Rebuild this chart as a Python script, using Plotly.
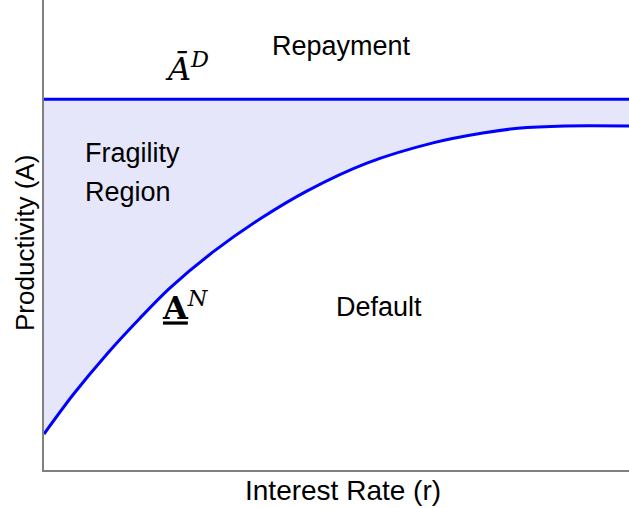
"""Fragility region chart: productivity thresholds against interest rate."""
import plotly.graph_objects as go

# interest rate (normalised 0..1 across the axis)
rate = [0.0, 0.0496, 0.1077, 0.164, 0.215, 0.289, 0.369, 0.450, 0.552, 0.665, 0.750, 0.810, 0.891, 1.0]
# lower threshold A^N
a_lower = [0.0766, 0.160, 0.247, 0.323, 0.387, 0.464, 0.534, 0.594, 0.653, 0.696, 0.717, 0.727, 0.732, 0.732]
# upper threshold A-bar^D (flat)
rate_upper = [0.0, 1.0]
a_upper = [0.789, 0.789]

line_blue = "#0000ff"
fill_col = "#e6e6fa"
sans = "Liberation Sans, Arial, sans-serif"
serif = "DejaVu Serif, serif"

fig = go.Figure()
fig.add_trace(go.Scatter(x=rate_upper, y=a_upper, mode="lines",
                         line=dict(color=line_blue, width=3), hoverinfo="skip"))
fig.add_trace(go.Scatter(x=rate, y=a_lower, mode="lines", fill="tonexty", fillcolor=fill_col,
                         line=dict(color=line_blue, width=3, shape="spline", smoothing=0.8),
                         hoverinfo="skip"))

labels = [
    (0.508, 0.902, "Repayment", sans, 27),
    (0.152, 0.674, "Fragility", sans, 27),
    (0.144, 0.591, "Region", sans, 27),
    (0.573, 0.347, "Default", sans, 27),
    (0.244, 0.858, "<i>Ā</i><sup><i>D</i></sup>", serif, 32),
    (0.242, 0.350, "<b><u>A</u></b><sup><i>N</i></sup>", serif, 32),
]
for x, y, text, family, size in labels:
    fig.add_annotation(x=x, y=y, xref="x", yref="y", text=text, showarrow=False,
                       font=dict(family=family, size=size, color="#000000"))

# axis titles as annotations so they sit where the original has them
fig.add_annotation(x=0.511, y=-0.0426, xref="paper", yref="paper", text="Interest Rate (r)",
                   xanchor="center", yanchor="middle", showarrow=False,
                   font=dict(family=sans, size=28, color="#000000"))
fig.add_annotation(x=-0.0325, y=0.483, xref="paper", yref="paper", text="Productivity (A)",
                   xanchor="center", yanchor="middle", textangle=-90, showarrow=False,
                   font=dict(family=sans, size=26, color="#000000"))

axis_common = dict(showgrid=False, zeroline=False, showticklabels=False, ticks="",
                   showline=True, linecolor="#808080", linewidth=2, range=[0, 1])
fig.update_xaxes(**axis_common)
fig.update_yaxes(**axis_common)

fig.update_layout(width=629, height=508, autosize=False, showlegend=False,
                  margin=dict(l=44, r=0, t=0, b=38),
                  plot_bgcolor="white", paper_bgcolor="white")

fix_page = (
    "document.body.style.margin='0';"
    "document.body.style.overflow='hidden';"
    "var gd=document.getElementById('{plot_id}');"
    "Plotly.relayout(gd,{width:629,height:508});"
)
fig.write_html("out.html", post_script=fix_page, config={"displayModeBar": False})
